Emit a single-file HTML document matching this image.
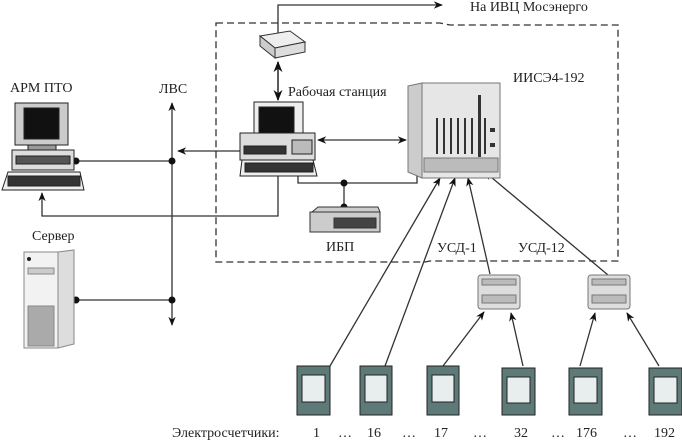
<!DOCTYPE html>
<html><head><meta charset="utf-8"><style>
html,body{margin:0;padding:0;background:#fff}
svg{display:block}
text{font-family:"Liberation Serif",serif;fill:#222;font-size:14px}
</style></head><body>
<svg width="682" height="440" viewBox="0 0 682 440" xmlns="http://www.w3.org/2000/svg">
<defs>
<marker id="a" viewBox="0 0 10 10" refX="9" refY="5" markerWidth="7" markerHeight="7" orient="auto-start-reverse"><path d="M0,1 L10,5 L0,9 L3,5z" fill="#111"/></marker>
</defs>
<g stroke="#333" stroke-width="1.3" fill="none">
<!-- dashed boundary -->
<path d="M216,23 L440,23 L450,25 L618,25 L618,261 L430,261 L425,262 L216,262 Z" stroke-dasharray="7,4"/>
<!-- to IVC -->
<path d="M278,33 L278,5 L442,5" marker-end="url(#a)"/>
<path d="M278,62 L278,100" marker-start="url(#a)" marker-end="url(#a)" stroke-width="1.6"/>
<!-- LVS -->
<path d="M172,325 L172,103" marker-start="url(#a)" marker-end="url(#a)"/>
<path d="M240,151 L178,151" marker-end="url(#a)"/>
<path d="M76,161 L172,161"/>
<path d="M278,176 L278,216 L42,216 L42,193" marker-end="url(#a)"/>
<path d="M76,300 L172,300"/>
<!-- ws to rack -->
<path d="M318,140 L406,140" marker-start="url(#a)" marker-end="url(#a)"/>
<path d="M298,165 L298,183 L417,183 L417,170"/>
<path d="M344,183 L344,207"/>
<!-- meters to rack -->
<path d="M330,366 L440,178" marker-end="url(#a)"/>
<path d="M385,366 L455,178" marker-end="url(#a)"/>
<path d="M490,274 L468,178" marker-end="url(#a)"/>
<path d="M608,275 L485,172" marker-end="url(#a)"/>
<path d="M443,366 L484,312" marker-end="url(#a)"/>
<path d="M523,366 L511,313" marker-end="url(#a)"/>
<path d="M580,366 L595,313" marker-end="url(#a)"/>
<path d="M659,366 L627,313" marker-end="url(#a)"/>
</g>
<g fill="#111">
<circle cx="172" cy="161" r="3.5"/><circle cx="172" cy="300" r="3.5"/>
<circle cx="76" cy="161" r="3.5"/><circle cx="76" cy="300" r="3.5"/>
<circle cx="344" cy="183" r="3.5"/><circle cx="344" cy="207" r="3.5"/>
</g>
<!-- modem -->
<g stroke="#333" stroke-width="1">
<path d="M260,36 L290,31 L305,42 L275,48 Z" fill="#eee"/>
<path d="M260,36 L275,48 L275,58 L260,46 Z" fill="#ccc"/>
<path d="M275,48 L305,42 L305,52 L275,58 Z" fill="#ddd"/>
</g>
<!-- APM PTO computer -->
<g stroke="#222" stroke-width="1">
<rect x="15" y="103" width="53" height="42" fill="#ccc"/>
<rect x="24" y="108" width="35" height="31" fill="#111"/>
<rect x="28" y="145" width="28" height="5" fill="#999"/>
<rect x="12" y="150" width="62" height="20" fill="#ddd"/>
<rect x="16" y="156" width="54" height="8" fill="#555"/>
<path d="M8,172 L80,172 L84,190 L2,190 Z" fill="#eee"/>
<rect x="8" y="176" width="72" height="10" fill="#333"/>
</g>
<!-- workstation -->
<g stroke="#222" stroke-width="1">
<rect x="254" y="102" width="49" height="36" fill="#eee"/>
<rect x="259" y="107" width="35" height="27" fill="#111"/>
<rect x="240" y="133" width="75" height="27" fill="#ddd"/>
<rect x="244" y="146" width="42" height="8" fill="#333"/>
<rect x="292" y="140" width="20" height="14" fill="#bbb"/>
<path d="M242,160 L313,160 L317,176 L240,176 Z" fill="#eee"/>
<rect x="245" y="163" width="68" height="9" fill="#333"/>
</g>
<!-- rack -->
<g stroke="#777" stroke-width="1">
<path d="M408,86 L422,83 L422,178 L408,172 Z" fill="#ccc"/>
<rect x="422" y="83" width="78" height="95" fill="#e6e6e6"/>
<rect x="424" y="158" width="74" height="14" fill="#bbb"/>
</g>
<g fill="#333">
<rect x="436" y="118" width="2" height="36"/><rect x="443" y="118" width="2" height="36"/><rect x="450" y="118" width="2" height="36"/><rect x="457" y="118" width="2" height="36"/><rect x="464" y="118" width="2" height="36"/><rect x="471" y="118" width="2" height="36"/><rect x="478" y="95" width="3" height="62"/><rect x="484" y="118" width="2" height="36"/>
<rect x="490" y="128" width="5" height="4"/><rect x="490" y="143" width="5" height="4"/>
</g>
<!-- UPS -->
<g stroke="#333" stroke-width="1">
<path d="M312,212 L318,207 L378,207 L380,212 Z" fill="#ccc"/>
<rect x="310" y="212" width="70" height="20" fill="#ccc"/>
<rect x="334" y="218" width="42" height="10" fill="#444"/>
</g>
<!-- server -->
<g stroke="#888" stroke-width="1">
<rect x="24" y="252" width="34" height="96" fill="#f2f2f2"/>
<path d="M58,252 L74,250 L74,344 L58,348 Z" fill="#ddd"/>
<rect x="28" y="268" width="26" height="6" fill="#ccc"/>
<rect x="28" y="306" width="26" height="40" fill="#aaa"/>
</g>
<circle cx="29" cy="259" r="2" fill="#222"/>
<!-- USD boxes -->
<g stroke="#777" stroke-width="1">
<rect x="478" y="275" width="42" height="34" rx="3" fill="#ddd"/>
<rect x="588" y="275" width="42" height="34" rx="3" fill="#ddd"/>
<rect x="482" y="279" width="34" height="6" fill="#bbb"/>
<rect x="592" y="279" width="34" height="6" fill="#bbb"/>
<rect x="482" y="295" width="34" height="8" fill="#bbb"/>
<rect x="592" y="295" width="34" height="8" fill="#bbb"/>
</g>
<!-- meters -->
<g stroke="#222" stroke-width="1">
<rect x="297" y="366" width="33" height="49" fill="#5e7a78"/><rect x="302" y="375" width="23" height="27" fill="#e8eeee"/>
<rect x="360" y="366" width="32" height="49" fill="#5e7a78"/><rect x="365" y="375" width="22" height="27" fill="#e8eeee"/>
<rect x="427" y="366" width="32" height="49" fill="#5e7a78"/><rect x="432" y="375" width="22" height="27" fill="#e8eeee"/>
<rect x="502" y="368" width="33" height="47" fill="#5e7a78"/><rect x="507" y="377" width="23" height="26" fill="#e8eeee"/>
<rect x="569" y="368" width="33" height="47" fill="#5e7a78"/><rect x="574" y="377" width="23" height="26" fill="#e8eeee"/>
<rect x="649" y="368" width="33" height="47" fill="#5e7a78"/><rect x="654" y="377" width="23" height="26" fill="#e8eeee"/>
</g>
<!-- labels -->
<text x="470" y="11">На ИВЦ Мосэнерго</text>
<text x="288" y="96">Рабочая станция</text>
<text x="513" y="82">ИИСЭ4-192</text>
<text x="10" y="92">АРМ ПТО</text>
<text x="159" y="93">ЛВС</text>
<text x="32" y="240">Сервер</text>
<text x="326" y="251">ИБП</text>
<text x="437" y="252">УСД-1</text>
<text x="518" y="252">УСД-12</text>
<text x="172" y="437">Электросчетчики:</text>
<text x="313" y="437">1</text><text x="338" y="437">…</text>
<text x="367" y="437">16</text><text x="402" y="437">…</text>
<text x="434" y="437">17</text><text x="473" y="437">…</text>
<text x="514" y="437">32</text><text x="551" y="437">…</text>
<text x="576" y="437">176</text><text x="623" y="437">…</text>
<text x="654" y="437">192</text>
</svg>
</body></html>
